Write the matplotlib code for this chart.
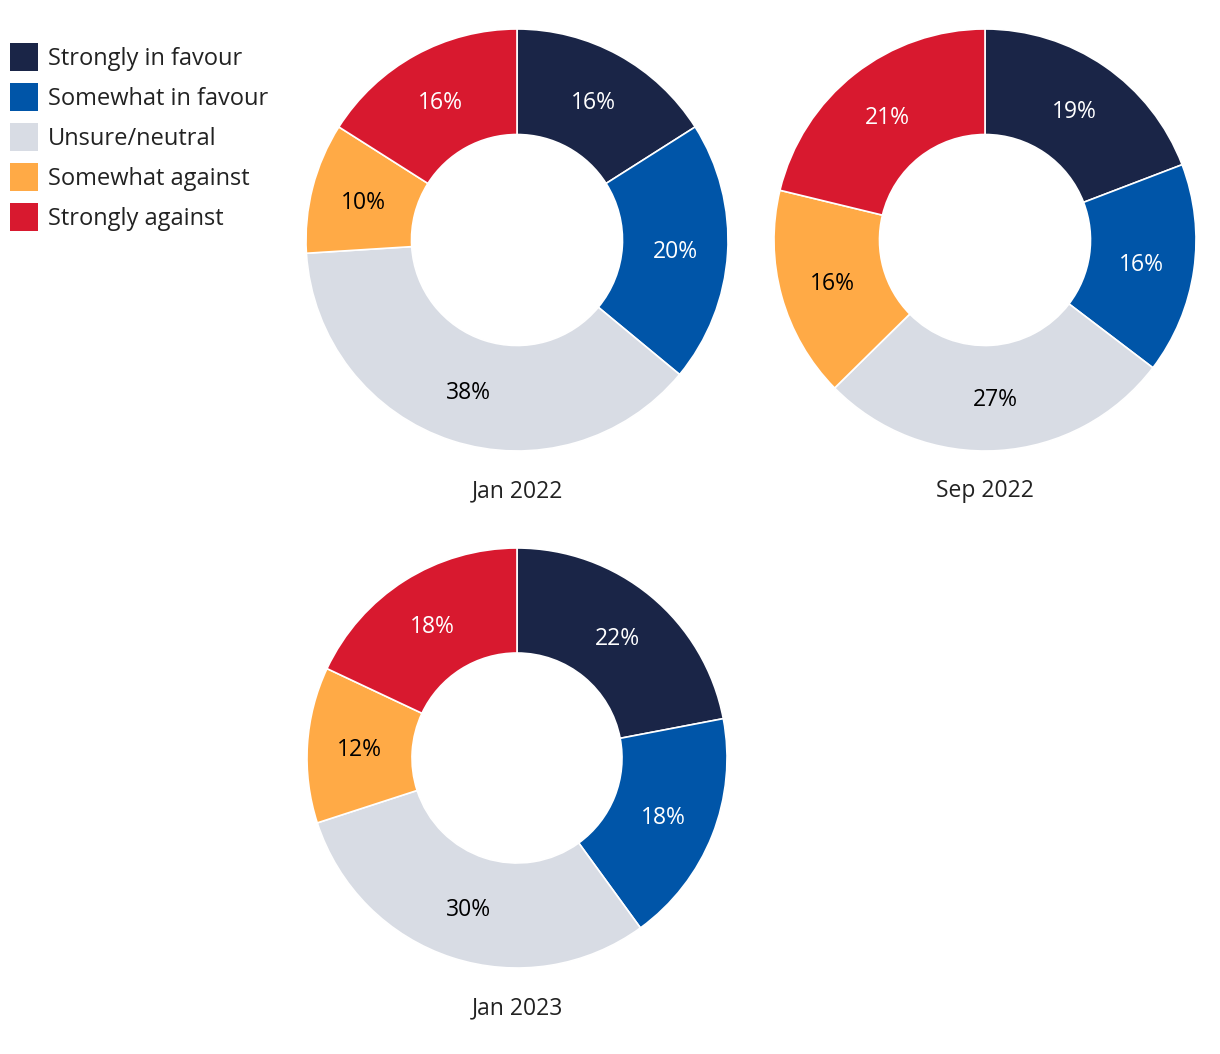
import numpy as np
import matplotlib
matplotlib.use("Agg")
import matplotlib.pyplot as plt
from matplotlib.patches import Rectangle

plt.rcParams['font.family'] = ['Open Sans', 'DejaVu Sans']

categories = ['Strongly in favour', 'Somewhat in favour', 'Unsure/neutral',
              'Somewhat against', 'Strongly against']
colors = ['#1a2547', '#0055a8', '#d8dce4', '#ffaa46', '#d8192f']
text_colors = ['white', 'white', 'black', 'black', 'white']

periods = ['Jan 2022', 'Sep 2022', 'Jan 2023']
jan_2022 = [16, 20, 38, 10, 16]
sep_2022 = [19, 16, 27, 16, 21]
jan_2023 = [22, 18, 30, 12, 18]

W, H = 1220, 1054
fig = plt.figure(figsize=(W / 100, H / 100), dpi=100)


def donut(cx, cy, r, values, title):
    # axes placed by pixel centre, radius r
    ax = fig.add_axes([(cx - r) / W, 1 - (cy + r) / H, 2 * r / W, 2 * r / H])
    wedges, _ = ax.pie(values, colors=colors, startangle=90, counterclock=False,
                       radius=1, wedgeprops=dict(width=0.5, edgecolor='white', linewidth=1.2))
    for w, v, tc in zip(wedges, values, text_colors):
        mid = np.deg2rad((w.theta1 + w.theta2) / 2)
        ax.text(0.75 * np.cos(mid), 0.75 * np.sin(mid) - 0.01, f'{v}%', ha='center', va='center',
                color=tc, fontsize=16.5)
    ax.set_xlim(-1, 1)
    ax.set_ylim(-1, 1)
    ax.set_aspect('equal')
    ax.axis('off')
    fig.text(cx / W, 1 - (cy + r + 40) / H, title, ha='center', va='center', fontsize=16.5,
             color='#222222')


donut(517, 240, 211, jan_2022, periods[0])
donut(985, 240, 211, sep_2022, periods[1])
donut(517, 758, 210, jan_2023, periods[2])

# legend
for i, (lab, c) in enumerate(zip(categories, colors)):
    y = 57 + 40 * i
    fig.patches.append(Rectangle((10 / W, 1 - (y + 14) / H), 28 / W, 28 / H,
                                 transform=fig.transFigure, facecolor=c, edgecolor='none'))
    fig.text(48 / W, 1 - (y + 2) / H, lab, ha='left', va='center', fontsize=17, color='#222222')

fig.savefig('out.png', dpi=100, facecolor='white')
